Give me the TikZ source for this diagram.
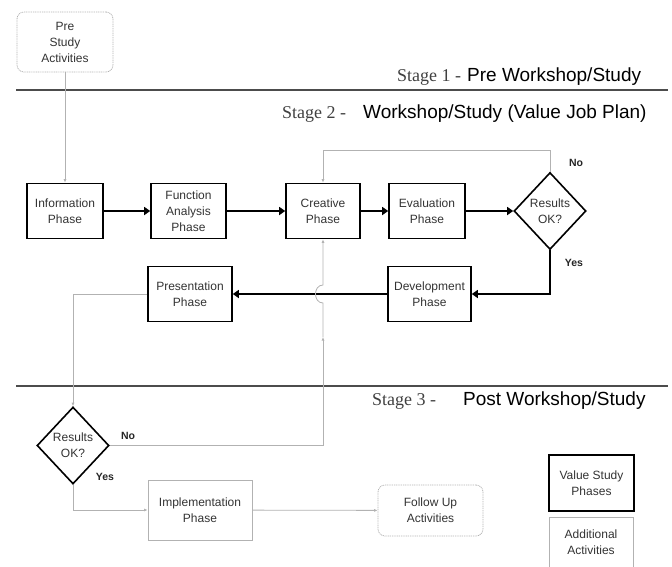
\documentclass[tikz,border=0pt]{standalone}
\usepackage{fontspec}
\setsansfont{Liberation Sans}
\newfontfamily\stageserif{Liberation Serif}
\usetikzlibrary{shapes.geometric,arrows.meta}

\newcommand{\boxfont}{\sffamily\fontsize{12}{16}\selectfont}
\newcommand{\headfont}{\sffamily\fontsize{19}{22}\selectfont}
\newcommand{\stagefont}{\stageserif\fontsize{18}{22}\selectfont}

\tikzset{
  phase/.style={draw,line width=1.6pt,inner sep=0pt,minimum height=55pt,
    align=center,font=\boxfont,text=black!80},
  extra/.style={draw=gray!60,line width=0.8pt,inner sep=0pt,
    align=center,font=\boxfont,text=black!80},
  activity/.style={extra,rounded corners=7pt,dash pattern=on 1pt off 0.8pt},
  decision/.style={diamond,draw,line width=1.6pt,inner sep=0pt,
    minimum width=72pt,minimum height=77pt,align=center,font=\boxfont,text=black!80},
  flow/.style={line width=1.6pt,-{Triangle[length=6pt,width=8pt]}},
  back/.style={gray!60,line width=0.8pt,-{Latex[length=3.5pt,width=3pt]}},
  answer/.style={font=\sffamily\bfseries\fontsize{10.5}{12}\selectfont,text=black!85},
  stagerule/.style={black!70,line width=1.2pt},
}

\begin{document}
\begin{tikzpicture}[x=1pt,y=-1pt]
  \useasboundingbox (0,0) rectangle (672,566);

  % stage rules and titles
  \draw[stagerule] (16,90) -- (668,90);
  \draw[stagerule] (16,386) -- (668,386);
  \node[anchor=base west,inner sep=0pt,text=black!75] (st1) at (397,81) {\stagefont Stage 1 -};
  \node[anchor=base west,inner sep=0pt] (st1t) at (467,81) {\headfont Pre Workshop/Study};
  \node[anchor=base west,inner sep=0pt,text=black!75] (st2) at (282,118) {\stagefont Stage 2 -};
  \node[anchor=base west,inner sep=0pt] (st2t) at (363,118) {\headfont Workshop/Study (Value Job Plan)};
  \node[anchor=base west,inner sep=0pt,text=black!75] (st3) at (372,405) {\stagefont Stage 3 -};
  \node[anchor=base west,inner sep=0pt] (st3t) at (463,405) {\headfont Post Workshop/Study};

  % boxes
  \node[activity,minimum width=96pt,minimum height=60pt] (prestudy) at (65,42) {Pre\\Study\\Activities};
  \node[phase,minimum width=76pt] (info) at (65,211) {Information\\Phase};
  \node[phase,minimum width=75pt] (func) at (188.5,211) {Function\\Analysis\\Phase};
  \node[phase,minimum width=74pt] (creat) at (323,211) {Creative\\Phase};
  \node[phase,minimum width=76pt] (eval) at (427,211) {Evaluation\\Phase};
  \node[decision] (res1) at (550,211) {Results\\OK?};
  \node[phase,minimum width=83pt] (devel) at (429.5,294) {Development\\Phase};
  \node[phase,minimum width=84pt] (pres) at (190,294) {Presentation\\Phase};
  \node[decision] (res2) at (73,445.5) {Results\\OK?};
  \node[extra,minimum width=104pt,minimum height=60pt] (impl) at (200,510) {Implementation\\Phase};
  \node[activity,minimum width=105pt,minimum height=51pt] (follow) at (430.5,510.5) {Follow Up\\Activities};

  % legend
  \node[phase,minimum width=85pt,minimum height=56pt] (legphase) at (591.5,483) {Value Study\\Phases};
  \node[extra,minimum width=84pt,minimum height=50pt] (legextra) at (591,542) {Additional\\Activities};

  % main flow
  \draw[back] (prestudy) -- (info);
  \draw[flow] (info) -- (func);
  \draw[flow] (func) -- (creat);
  \draw[flow] (creat) -- (eval);
  \draw[flow] (eval) -- (res1);
  \draw[back] (res1.north) -- ++(0,-21) -| (creat.north);
  \draw[flow] (res1.south) |- (devel.east);
  \draw[flow] (devel) -- (pres);
  \draw[back] (pres.west) -| (res2.north);

  % second loop, hopping over the flow line
  \coordinate (midup) at (323,337);
  \coordinate (hoplow) at (323,303);
  \coordinate (hophigh) at (323,285);
  \draw[back] (res2.east) -| (midup);
  \draw[back] (midup) -- (hoplow) .. controls (313,303) and (313,285) .. (hophigh) -- (creat.south);
  \draw[back] (res2.south) |- (impl.west);
  \draw[back] (impl) -- (follow);

  \node[answer] (no1) at (576,163) {No};
  \node[answer] (yes1) at (574,263) {Yes};
  \node[answer] (no2) at (128,436) {No};
  \node[answer] (yes2) at (105,477) {Yes};
\end{tikzpicture}
\end{document}
